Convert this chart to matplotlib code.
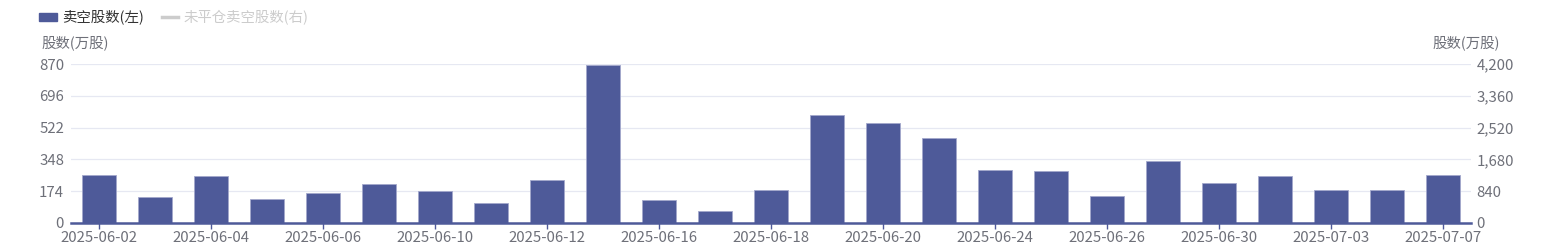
import numpy as np
import matplotlib
matplotlib.use("Agg")
import matplotlib.pyplot as plt
from matplotlib.ticker import FuncFormatter

plt.rcParams['font.family'] = ['Noto Sans CJK SC', 'DejaVu Sans']

fechas = ["2025-06-02", "2025-06-03", "2025-06-04", "2025-06-05", "2025-06-06",
          "2025-06-09", "2025-06-10", "2025-06-11", "2025-06-12", "2025-06-13",
          "2025-06-16", "2025-06-17", "2025-06-18", "2025-06-19", "2025-06-20",
          "2025-06-23", "2025-06-24", "2025-06-25", "2025-06-26", "2025-06-27",
          "2025-06-30", "2025-07-02", "2025-07-03", "2025-07-04", "2025-07-07"]
venta_corta = [260, 145, 255, 132, 163, 211, 176, 110, 236, 866,
               126, 68, 181, 593, 548, 463, 288, 284, 150, 341,
               220, 256, 183, 183, 264]
ticks_izq = [0, 174, 348, 522, 696, 870]
ticks_der = [0, 840, 1680, 2520, 3360, 4200]

color_barra = "#4E5A99"
color_texto = "#6E7079"
color_grid = "#E6E8F2"
tam_num = 10.8
tam_cjk = 10.4

fig = plt.figure(figsize=(15.42, 2.5), dpi=100)
ax = fig.add_axes([71/1542, 27/250, 1400/1542, 159/250])
ax2 = ax.twinx()

x = np.arange(len(fechas))
ax.bar(x, venta_corta, width=0.6, color=color_barra, edgecolor="#A3A8CC",
       linewidth=0.6, zorder=3)

ax.set_xlim(-0.5, len(fechas) - 0.5)
ax.set_ylim(0, 870)
ax.set_yticks(ticks_izq)
ax2.set_ylim(0, 4200)
ax2.set_yticks(ticks_der)
ax2.yaxis.set_major_formatter(FuncFormatter(lambda v, p: f"{int(v):,}"))

ax.set_xticks(x[::2])
ax.set_xticklabels(fechas[::2])

for a in (ax, ax2):
    for lado in ["top", "left", "right", "bottom"]:
        a.spines[lado].set_visible(False)
ax.spines["bottom"].set_visible(True)
ax.spines["bottom"].set_color(color_barra)
ax.spines["bottom"].set_linewidth(1.8)
ax.spines["bottom"].set_zorder(4)

ax.grid(axis="y", color=color_grid, linewidth=0.9, zorder=0)
ax.tick_params(axis="y", length=0, labelsize=tam_num, labelcolor=color_texto, pad=5)
ax2.tick_params(axis="y", length=0, labelsize=tam_num, labelcolor=color_texto, pad=4)
ax.tick_params(axis="x", length=4.5, width=1, color=color_barra, labelsize=tam_num,
               labelcolor=color_texto, pad=1)

fig.text(42/1542, 1 - 43/250, "股数(万股)", fontsize=tam_cjk, color=color_texto,
         va="center", ha="left")
fig.text(1500/1542, 1 - 43/250, "股数(万股)", fontsize=tam_cjk, color=color_texto,
         va="center", ha="right")

# leyenda
fig.patches.append(plt.Rectangle((39/1542, 1 - 21/250), 18/1542, 8/250,
                                 transform=fig.transFigure, color=color_barra))
fig.text(62/1542, 1 - 17/250, "卖空股数(左)", fontsize=tam_cjk, color="#333333",
         va="center", ha="left")
fig.lines.append(plt.Line2D([162/1542, 178/1542], [1 - 17/250, 1 - 17/250],
                            transform=fig.transFigure, color="#CCCCCC", linewidth=2.5))
fig.text(184/1542, 1 - 17/250, "未平仓卖空股数(右)", fontsize=tam_cjk, color="#CCCCCC",
         va="center", ha="left")

fig.savefig("out.png", dpi=100)
